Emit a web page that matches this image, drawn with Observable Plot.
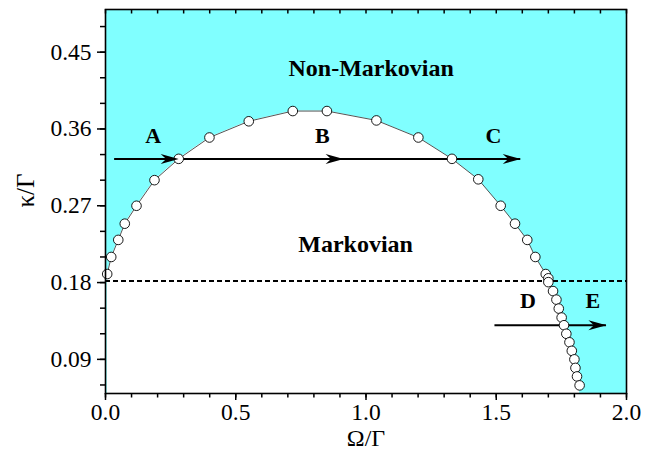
<!DOCTYPE html>
<html>
<head>
<meta charset="utf-8">
<script src="https://cdn.jsdelivr.net/npm/d3@7"></script>
<script src="https://cdn.jsdelivr.net/npm/@observablehq/plot@0.6"></script>
<style>
  html, body { margin: 0; padding: 0; background: #fff; }
  #chart svg { display: block; }
</style>
</head>
<body>
<div id="chart"></div>
<script>
// Boundary between Markovian and non-Markovian regimes
const omega = [0.0065, 0.022, 0.049, 0.074, 0.119, 0.188, 0.281, 0.399, 0.550, 0.719, 0.850, 1.040, 1.201, 1.330, 1.431, 1.517, 1.572, 1.619, 1.650, 1.690, 1.700, 1.700, 1.718, 1.731, 1.740, 1.751, 1.760, 1.769, 1.781, 1.790, 1.800, 1.804, 1.810, 1.820];
const kappa = [0.190, 0.210, 0.230, 0.249, 0.270, 0.300, 0.325, 0.350, 0.369, 0.381, 0.381, 0.370, 0.350, 0.325, 0.301, 0.270, 0.249, 0.230, 0.210, 0.190, 0.185, 0.1805, 0.170, 0.160, 0.1495, 0.139, 0.130, 0.120, 0.110, 0.100, 0.090, 0.080, 0.070, 0.0595];

// Dashed threshold
const threshold = [0.1817];

// Arrows
const arrowX1 = [0.035, 1.495];
const arrowX2 = [1.594, 1.923];
const arrowY = [0.3248, 0.130];
const headX = [0.281, 0.914, 1.594, 1.923];
const headY = [0.3248, 0.3248, 0.3248, 0.130];

// Letter labels
const letters = ["A", "B", "C", "D", "E"];
const letterX = [0.183, 0.832, 1.489, 1.622, 1.871];
const letterY = [0.352, 0.352, 0.352, 0.158, 0.158];

// Region labels
const regions = ["Non-Markovian", "Markovian"];
const regionX = [1.02, 0.96];
const regionY = [0.431, 0.225];

// Axis titles
const xTitle = "Ω/Γ";
const yTitle = "κ/Γ";

// Ticks
const xMajor = [0, 0.5, 1.0, 1.5, 2.0];
const xMinor = d3.range(0, 21).map(i => i / 10);
const yMajor = [0.09, 0.18, 0.27, 0.36, 0.45];
const yMinor = d3.range(2, 17).map(i => i * 0.03);
const xDomain = [0, 2];
const yDomain = [0.05, 0.5];

const curve = omega.map((x, i) => ({x, y: kappa[i]}));
const arrows = arrowX1.map((x1, i) => ({x1, x2: arrowX2[i], y: arrowY[i]}));
const heads = headX.map((x, i) => ({x, y: headY[i]}));
const letterData = letters.map((t, i) => ({t, x: letterX[i], y: letterY[i]}));
const regionData = regions.map((t, i) => ({t, x: regionX[i], y: regionY[i]}));

const W = 654, H = 457;
const mT = 9, mB = 64, mL = 105, mR = 28;
const frameH = H - mT - mB;

const arrowHead = {
  draw(ctx) {
    ctx.moveTo(0, 0);
    ctx.lineTo(-18, -5);
    ctx.lineTo(-12.5, 0);
    ctx.lineTo(-18, 5);
    ctx.closePath();
  }
};

const serif = "Liberation Serif";

const chart = Plot.plot({
  width: W,
  height: H,
  marginTop: mT,
  marginBottom: mB,
  marginLeft: mL,
  marginRight: mR,
  style: "font-family: 'Liberation Serif', serif; font-size: 23px; color: black; background: white;",
  x: {domain: xDomain, label: null},
  y: {domain: yDomain, label: null},
  marks: [
    Plot.frame({fill: "#80ffff", stroke: "none"}),
    Plot.areaY(curve, {x: "x", y1: () => yDomain[0], y2: "y", fill: "white"}),
    Plot.ruleY(threshold, {stroke: "black", strokeWidth: 2, strokeDasharray: "5,3"}),
    Plot.line(curve, {x: "x", y: "y", stroke: "#555", strokeWidth: 1}),
    Plot.ruleY(arrows, {x1: "x1", x2: "x2", y: "y", stroke: "black", strokeWidth: 2}),
    Plot.dot(curve, {x: "x", y: "y", r: 4.8, fill: "white", stroke: "black", strokeWidth: 0.9}),
    Plot.dot(heads, {x: "x", y: "y", symbol: arrowHead, fill: "black", stroke: "none"}),
    Plot.text(letterData, {x: "x", y: "y", text: "t", fontWeight: "bold", fontSize: 22, fontFamily: serif, fill: "black"}),
    Plot.text(regionData, {x: "x", y: "y", text: "t", fontWeight: "bold", fontSize: 24, fontFamily: serif, fill: "black"}),
    // axes
    Plot.axisX(xMinor, {anchor: "bottom", tickSize: 4.5, text: null, strokeWidth: 1.5}),
    Plot.axisX(xMajor, {anchor: "bottom", tickSize: 7, tickPadding: 3, tickFormat: d3.format(".1f"), strokeWidth: 1.5, fontSize: 23.5, fontFamily: serif, fill: "black"}),
    Plot.axisY(yMinor, {anchor: "left", tickSize: 5, text: null, strokeWidth: 1.5}),
    Plot.axisY(yMajor, {anchor: "left", tickSize: 8, tickPadding: 6, tickFormat: d3.format(".2f"), strokeWidth: 1.5, fontSize: 23.5, fontFamily: serif, fill: "black"}),
    Plot.ruleX(xMinor, {stroke: "black", strokeWidth: 1.5, insetBottom: frameH - 4.5}),
    Plot.frame({stroke: "black", strokeWidth: 1.6}),
    Plot.text([xTitle], {frameAnchor: "bottom", dy: 52, fontSize: 24, fontFamily: serif, fill: "black"}),
    Plot.text([yTitle], {y: () => 0.268, frameAnchor: "left", dx: -80, rotate: -90, fontSize: 25, fontFamily: serif, fill: "black"})
  ]
});

document.getElementById("chart").appendChild(chart);
</script>
</body>
</html>
